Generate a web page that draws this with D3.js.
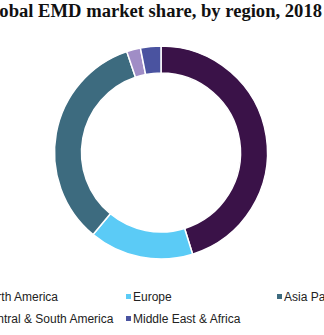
<!DOCTYPE html>
<html>
<head>
<meta charset="utf-8">
<script src="https://cdn.jsdelivr.net/npm/d3@7"></script>
<style>
  html, body { margin: 0; padding: 0; background: #ffffff; overflow: hidden; }
</style>
</head>
<body>
<div id="chart"></div>
<script>
// market share by region, 2018 (%)
const regions = ["North America", "Europe", "Asia Pacific", "Central & South America", "Middle East & Africa"];
const shares = [45.2, 15.8, 33.8, 2.1, 3.1];
const colors = ["#3a1248", "#5bcbf6", "#3d6b7f", "#a08dc6", "#4a53a0"];
const title = "Global EMD market share, by region, 2018";

window.onload = function () {
  const width = 324;
  const height = 335;

  const svg = d3.select("#chart")
    .append("svg")
    .attr("width", width)
    .attr("height", height)
    .style("background", "#ffffff");

  svg.append("text")
    .attr("x", 322)
    .attr("y", 17)
    .attr("text-anchor", "end")
    .style("font-family", "'Liberation Serif', serif")
    .style("font-weight", "bold")
    .style("font-size", "18.6px")
    .style("fill", "#111111")
    .text(title);

  const cx = 161, cy = 152.5;
  const outerR = 106.5, innerR = 79.5;

  const pie = d3.pie().sort(null).value(d => d.value);
  const arc = d3.arc().innerRadius(innerR).outerRadius(outerR);
  const data = regions.map((r, i) => ({ name: r, value: shares[i], color: colors[i] }));

  svg.append("g")
    .attr("transform", `translate(${cx}, ${cy})`)
    .selectAll("path")
    .data(pie(data))
    .enter()
    .append("path")
    .attr("d", arc)
    .attr("fill", d => d.data.color)
    .attr("stroke", "#ffffff")
    .attr("stroke-width", 1.5);

  // legend: 3 columns, 2 rows
  const colX = d3.scaleLinear().domain([0, 1]).range([-25, 126]);
  const rowY = d3.scaleLinear().domain([0, 1]).range([297, 319]);

  const items = svg.append("g")
    .selectAll("g")
    .data(data)
    .enter()
    .append("g")
    .attr("transform", (d, i) => `translate(${colX(i % 3)}, ${rowY(Math.floor(i / 3))})`);

  items.append("rect")
    .attr("x", 0)
    .attr("y", -3)
    .attr("width", 5)
    .attr("height", 5)
    .attr("fill", d => d.color);

  items.append("text")
    .attr("x", 7)
    .attr("y", 0)
    .attr("dy", "0.35em")
    .style("font-family", "'Liberation Sans', Arial, sans-serif")
    .style("font-size", "12px")
    .style("fill", "#222222")
    .text(d => d.name);
};
</script>
</body>
</html>
